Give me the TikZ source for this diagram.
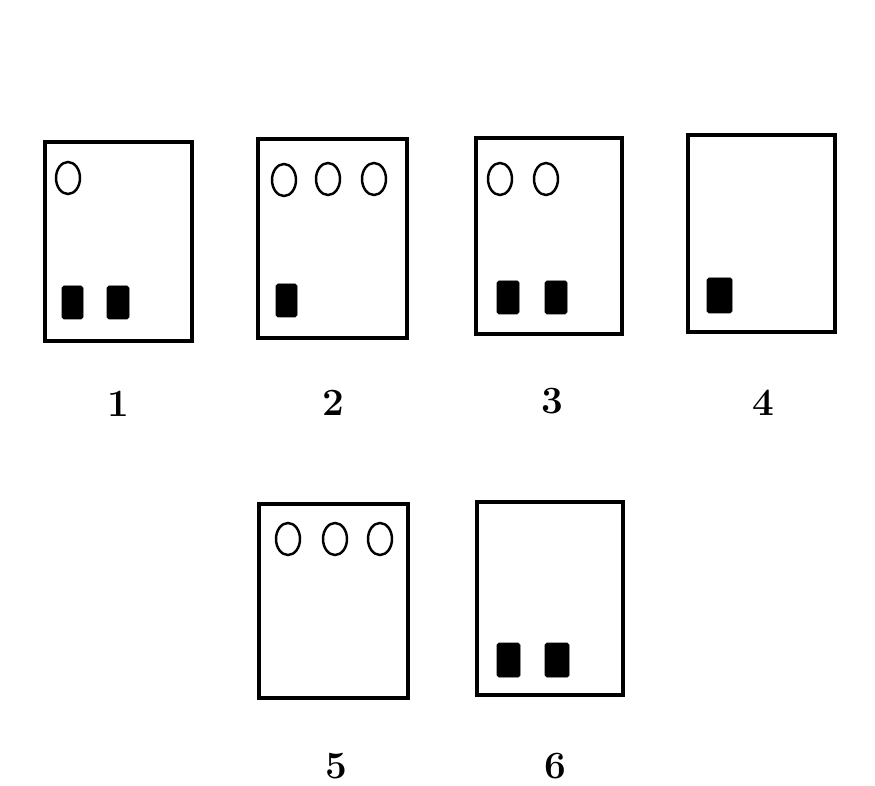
\documentclass[tikz,border=0pt]{standalone}
\begin{document}
\begin{tikzpicture}[x=0.02cm,y=-0.02cm,
  card/.style={line width=2.6pt},
  hole/.style={line width=1.4pt},
  pin/.style={fill=black,rounded corners=1pt},
  num/.style={font=\fontsize{22}{26}\selectfont\bfseries}]
\useasboundingbox (0,0) rectangle (875,786);

% card 1
\draw[card] (45,142) rectangle (192,341);
\draw[hole] (68,178) ellipse (12 and 16);
\draw[pin] (62,286) rectangle ++(21,33);
\draw[pin] (107,286) rectangle ++(22,33);
\node[num] (l1) at (118,404) {1};

% card 2
\draw[card] (258,139) rectangle (407,338);
\draw[hole] (284,180) ellipse (12 and 16);
\draw[hole] (328,179) ellipse (12 and 16);
\draw[hole] (374,179) ellipse (12 and 16);
\draw[pin] (276,284) rectangle ++(21,33);
\node[num] (l2) at (333,403) {2};

% card 3
\draw[card] (476,138) rectangle (622,334);
\draw[hole] (500,179) ellipse (12 and 16);
\draw[hole] (546,179) ellipse (12 and 16);
\draw[pin] (497,281) rectangle ++(22,33);
\draw[pin] (545,281) rectangle ++(22,33);
\node[num] (l3) at (552,401) {3};

% card 4
\draw[card] (688,135) rectangle (835,332);
\draw[pin] (707,278) rectangle ++(25,35);
\node[num] (l4) at (763,403) {4};

% card 5
\draw[card] (259,504) rectangle (408,698);
\draw[hole] (288,539) ellipse (12 and 16);
\draw[hole] (335,539) ellipse (12 and 16);
\draw[hole] (380,539) ellipse (12 and 16);
\node[num] (l5) at (336,766) {5};

% card 6
\draw[card] (477,502) rectangle (623,695);
\draw[pin] (497,643) rectangle ++(23,34);
\draw[pin] (545,643) rectangle ++(24,34);
\node[num] (l6) at (555,766) {6};
\end{tikzpicture}
\end{document}
